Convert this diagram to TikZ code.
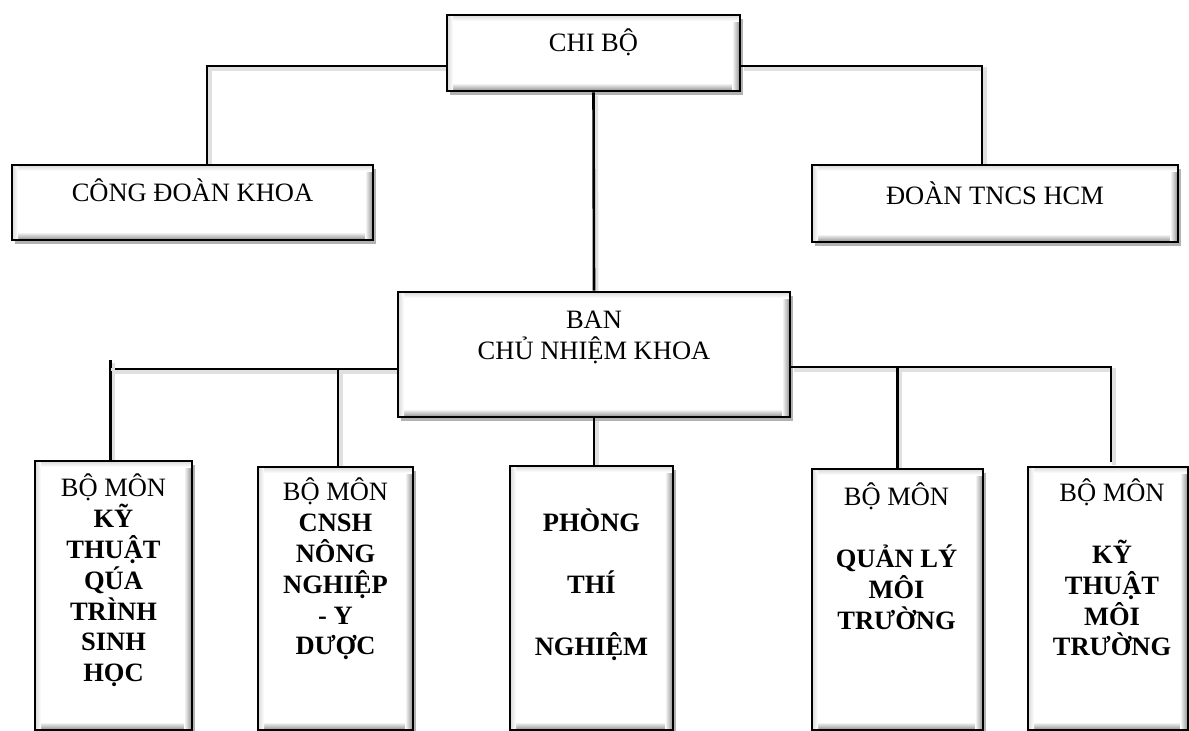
\documentclass[tikz,border=0pt]{standalone}
\usepackage{fontspec}
\setmainfont{Liberation Serif}
\usetikzlibrary{shadows}
\pgfdeclarelayer{bg}
\pgfsetlayers{bg,main}
\newcommand\myfs{\fontsize{26.5}{30.8}\selectfont}
\newcommand\st{\rule{0pt}{25pt}}
\tikzset{
  bevel/.style={path picture={
    \path (path picture bounding box.south west) coordinate (pSW)
          (path picture bounding box.north east) coordinate (pNE);
    \shade[top color=white, bottom color=black!45] (pSW) rectangle ([yshift=8pt]pSW -| pNE);
    \shade[left color=white, right color=black!45] (pNE) rectangle ([xshift=-8pt]pNE |- pSW);
    \shade[top color=black!15, bottom color=white] (pNE) rectangle ([yshift=-6pt]pSW |- pNE);
    \shade[left color=black!15, right color=white] (pSW) rectangle ([xshift=6pt]pSW |- pNE);
  }},
  box/.style={rectangle, draw=black, line width=2.8pt, fill=white, inner sep=0pt,
    drop shadow={shadow xshift=3pt, shadow yshift=-4pt, opacity=0.3, fill=black}, bevel},
  conn/.style={line width=2.6pt, black,
    preaction={draw=black!12, line width=4pt, transform canvas={xshift=2.5pt, yshift=-3pt}}},
  txt/.style={font=\myfs, align=center, inner sep=0pt},
}
\begin{document}
\begin{tikzpicture}[x=1pt,y=-1pt]
\useasboundingbox (0,0) rectangle (1189,731);
\clip (0,0) rectangle (1189,731);
% boxes
\node[box, minimum width=293pt, minimum height=76pt] (chi) at (593.5,53) {};
\node[box, minimum width=361pt, minimum height=75pt] (cong) at (192.5,202.5) {};
\node[box, minimum width=366pt, minimum height=77pt] (doan) at (995,203.5) {};
\node[box, minimum width=392pt, minimum height=125pt] (ban) at (594,354.5) {};
\node[box, minimum width=157pt, minimum height=269pt] (b1) at (113.5,595.5) {};
\node[box, minimum width=155pt, minimum height=263pt] (b2) at (335.5,598.5) {};
\node[box, minimum width=163pt, minimum height=264pt] (ph) at (591.5,598) {};
\node[box, minimum width=171pt, minimum height=261pt] (b4) at (897.5,599.5) {};
\node[box, minimum width=160pt, minimum height=263pt] (b5) at (1108,598.5) {};
% connectors (behind boxes)
\begin{pgfonlayer}{bg}
\draw[conn] ([yshift=-13pt]chi.west) -| ([xshift=14.5pt]cong.north);
\draw[conn] ([yshift=-13pt]chi.east) -| ([xshift=-13pt]doan.north);
\draw[conn] (chi.south) -- (ban.north);
\draw[conn] ([yshift=-14.5pt]ban.west) -| ([xshift=-3pt]b1.north);
\draw[conn] ([xshift=-3pt]b1.north) ++(0,-92) -- ++(0,-8);
\draw[conn] ([xshift=2.5pt]b2.north) -- ++(0,-96);
\draw[conn] ([yshift=-12.5pt]ban.east) -| ([xshift=3pt,yshift=4pt]b5.north);
\draw[conn] (b4.north) -- ++(0,-102);
\draw[conn] (ban.south) -- (ban.south |- ph.north);
\end{pgfonlayer}
% texts
\node[txt, anchor=base] (chit) at (593.5,51.6) {CHI BỘ};
\node[txt, anchor=base] (congt) at (192.5,201.6) {CÔNG ĐOÀN KHOA};
\node[txt, anchor=base] (doant) at (995,204) {ĐOÀN TNCS HCM};
\node[txt, anchor=north] (bant) at (594,303.6) {\st BAN\\CHỦ NHIỆM KHOA};
\node[txt, anchor=north] (b1t) at (113.5,471.6) {\st BỘ MÔN\\\bfseries KỸ\\\bfseries THUẬT\\\bfseries QÚA\\\bfseries TRÌNH\\\bfseries SINH\\\bfseries HỌC};
\node[txt, anchor=north] (b2t) at (335.5,475.6) {\st BỘ MÔN\\\bfseries CNSH\\\bfseries NÔNG\\\bfseries NGHIỆP\\\bfseries - Y\\\bfseries DƯỢC};
\node[txt, anchor=north] (pht) at (591.5,506.6) {\st\bfseries PHÒNG\\[31pt]\bfseries THÍ\\[31pt]\bfseries NGHIỆM};
\node[txt, anchor=north] (b4t) at (896.5,480.6) {\st BỘ MÔN\\[30.8pt]\bfseries QUẢN LÝ\\\bfseries MÔI\\\bfseries TRƯỜNG};
\node[txt, anchor=north] (b5t) at (1112,476.6) {\st BỘ MÔN\\[30.8pt]\bfseries KỸ\\\bfseries THUẬT\\\bfseries MÔI\\\bfseries TRƯỜNG};
\end{tikzpicture}
\end{document}
